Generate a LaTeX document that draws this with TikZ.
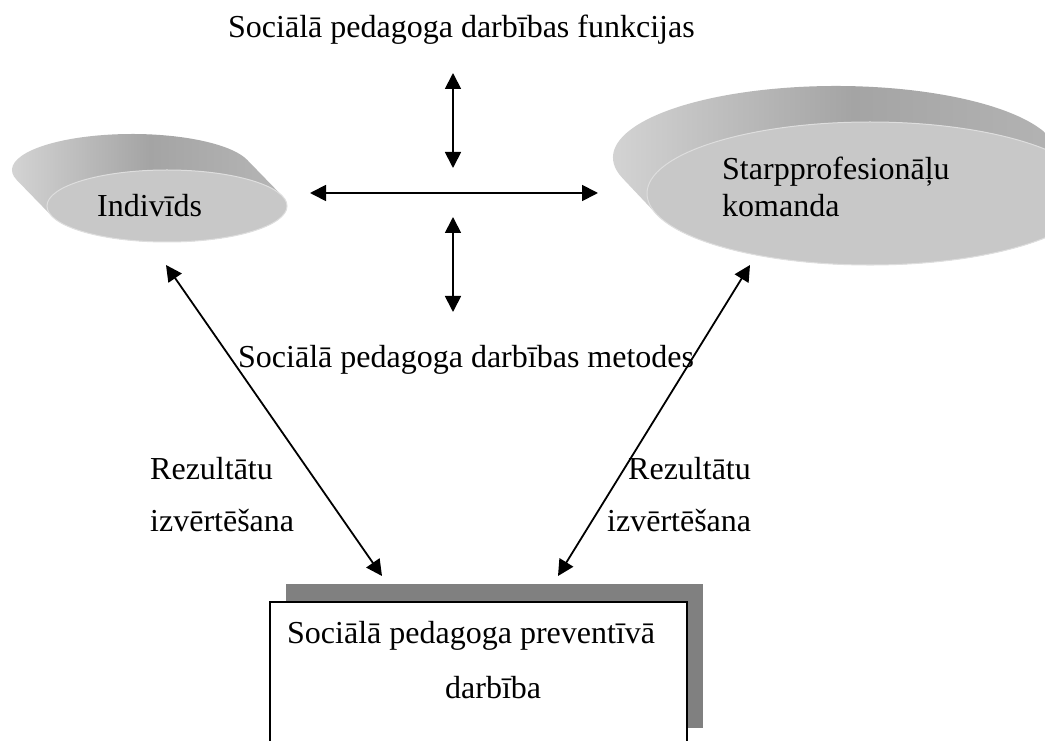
\documentclass[tikz,border=0pt]{standalone}
\usepackage{fontspec}
\setmainfont{Liberation Serif}
\usetikzlibrary{arrows.meta}
\definecolor{faceGray}{RGB}{200,200,200}
\definecolor{faceEdge}{RGB}{222,222,222}
\definecolor{rimLight}{RGB}{216,216,216}
\definecolor{rimMid}{RGB}{164,164,164}
\definecolor{rimRight}{RGB}{184,184,184}
\definecolor{shadowGray}{RGB}{128,128,128}
\tikzset{
  lbl/.style={inner sep=0pt, anchor=base west, font=\fontsize{32}{38}\selectfont},
  dbl/.style={{Triangle[length=16pt,width=16pt]}-{Triangle[length=16pt,width=16pt]}, line width=1.8pt},
  rim/.style={left color=rimLight, right color=rimRight, middle color=rimMid, shading angle=90},
  face/.style={fill=faceGray, draw=faceEdge, line width=1pt},
}
\begin{document}
\begin{tikzpicture}[x=1pt,y=1pt]
  \clip (0,0) rectangle (1045,740);
  \fill[white] (0,0) rectangle (1045,740);

  % --- extruded ellipse "Indivīds" ---
  \coordinate (indFace) at (167,534);
  \coordinate (indBack) at (132,570);
  \shade[rim] (indBack) ++(16.26:120pt and 36pt)
     arc[start angle=16.26, end angle=196.26, x radius=120pt, y radius=36pt]
     -- ++(35pt,-36pt)
     arc[start angle=196.26, end angle=376.26, x radius=120pt, y radius=36pt]
     -- cycle;
  \path[face] (indFace) ellipse[x radius=120pt, y radius=36pt];
  \node[lbl] (ind) at (97,523) {Indivīds};

  % --- extruded ellipse "Starpprofesionāļu komanda" ---
  \coordinate (teamFace) at (870,546.5);
  \coordinate (teamBack) at (836,582.5);
  \shade[rim] (teamBack) ++(16.85:223pt and 71.5pt)
     arc[start angle=16.85, end angle=196.85, x radius=223pt, y radius=71.5pt]
     -- ++(34pt,-36pt)
     arc[start angle=196.85, end angle=376.85, x radius=223pt, y radius=71.5pt]
     -- cycle;
  \path[face] (teamFace) ellipse[x radius=223pt, y radius=71.5pt];
  \node[lbl] (team1) at (722,560) {Starpprofesionāļu};
  \node[lbl] (team2) at (722,523) {komanda};

  % --- headings ---
  \node[lbl] (func) at (228,702) {Sociālā pedagoga darbības funkcijas};
  \node[lbl] (meth) at (238,372) {Sociālā pedagoga darbības metodes};

  % --- preventive work box with shadow ---
  \fill[shadowGray] (286,156) rectangle (703,12);
  \node[draw, line width=1.5pt, fill=white, minimum width=417pt, minimum height=150pt,
        anchor=north west, inner sep=0pt] (box) at (269,139) {};
  \node[lbl] (boxt1) at (287,97) {Sociālā pedagoga preventīvā};
  \node[lbl] (boxt2) at (445,42) {darbība};

  % --- evaluation labels ---
  \node[lbl] (evL1) at (150,260) {Rezultātu};
  \node[lbl] (evL2) at (150,208) {izvērtēšana};
  \node[lbl] (evR1) at (628,260) {Rezultātu};
  \node[lbl] (evR2) at (607,208) {izvērtēšana};

  % --- arrow end points ---
  \coordinate (upT) at (453,667);
  \coordinate (upB) at (453,572);
  \coordinate (hL) at (310,547);
  \coordinate (hR) at (598,547);
  \coordinate (dnT) at (453,523);
  \coordinate (dnB) at (453,428);
  \coordinate (indTip) at (166,475);
  \coordinate (boxTipL) at (382,164);
  \coordinate (teamTip) at (750,475);
  \coordinate (boxTipR) at (558,164);

  \draw[dbl] (upT) -- (upB);
  \draw[dbl] (hL) -- (hR);
  \draw[dbl] (dnT) -- (dnB);
  \draw[dbl] (indTip) -- (boxTipL);
  \draw[dbl] (teamTip) -- (boxTipR);
\end{tikzpicture}
\end{document}
